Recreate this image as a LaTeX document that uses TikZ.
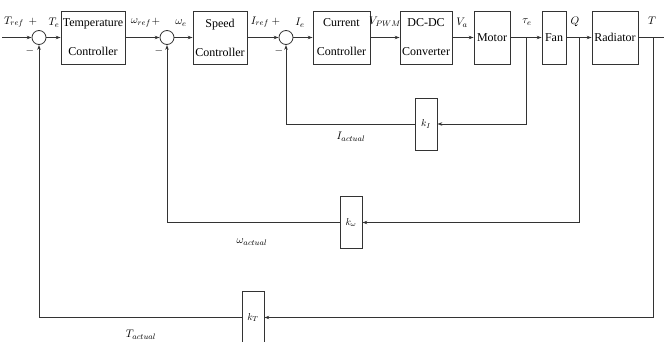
\documentclass[tikz,border=0pt]{standalone}
\usepackage{fontspec}
\setmainfont{Liberation Serif}
\usetikzlibrary{arrows.meta}
\begin{document}
\begin{tikzpicture}[x=1pt,y=-1pt,
  wire/.style={draw=black!80,line width=0.8pt},
  arr/.style={wire,-{Stealth[length=5pt,width=3.5pt]}},
  blockbox/.style={draw=black!80,line width=0.8pt,minimum height=53pt,inner sep=0pt,align=center,
    font=\fontsize{12}{29}\selectfont},
  gainbox/.style={draw=black!80,line width=0.8pt,minimum height=52pt,minimum width=22pt,inner sep=0pt},
  sumnode/.style={draw=black!80,line width=0.8pt,circle,minimum size=14pt,inner sep=0pt},
  lab/.style={inner sep=0pt,font=\fontsize{11}{13}\selectfont}]
\useasboundingbox (0,0) rectangle (664,342);
% blocks
\node[blockbox,minimum width=64pt] (temp) at (93,37.5) {Temperature\\Controller};
\node[blockbox,minimum width=54pt] (speed) at (220,37.5) {Speed\\Controller};
\node[blockbox,minimum width=57pt] (curr) at (341.5,37.5) {Current\\Controller};
\node[blockbox,minimum width=52pt] (dcdc) at (426,37.5) {DC-DC\\Converter};
\node[blockbox,minimum width=36pt] (motor) at (492,37.5) {Motor};
\node[blockbox,minimum width=24pt] (fan) at (554,37.5) {Fan};
\node[blockbox,minimum width=46pt] (rad) at (615,37.5) {Radiator};
% sums
\node[sumnode] (s1) at (39,37.5) {};
\node[sumnode] (s2) at (167,37.5) {};
\node[sumnode] (s3) at (286,37.5) {};
% gains
\node[gainbox] (kI) at (426,124) {$k_I$};
\node[gainbox] (kw) at (351,222.5) {$k_\omega$};
\node[gainbox] (kT) at (253,317.5) {$k_T$};
% coordinates
\coordinate (in) at (2,37.5);
\coordinate (out) at (664,37.5);
\coordinate (btau) at (526,37.5);
\coordinate (bQ) at (579,37.5);
\coordinate (bT) at (653,37.5);
% forward path
\draw[arr] (in) -- (s1);
\draw[arr] (s1) -- (temp);
\draw[arr] (temp) -- (s2);
\draw[arr] (s2) -- (speed);
\draw[arr] (speed) -- (s3);
\draw[arr] (s3) -- (curr);
\draw[arr] (curr) -- (dcdc);
\draw[arr] (dcdc) -- (motor);
\draw[arr] (motor) -- (fan);
\draw[arr] (fan) -- (rad);
\draw[wire] (rad) -- (out);
% feedback
\draw[arr] (btau) |- (kI);
\draw[arr] (kI.west) -| (s3.south);
\draw[arr] (bQ) |- (kw);
\draw[arr] (kw.west) -| (s2.south);
\draw[arr] (bT) |- (kT);
\draw[arr] (kT.west) -| (s1.south);
% labels
\node[lab] (l1) at (14,22) {$T_{ref}$};
\node[lab] (p1) at (33,22) {$+$};
\node[lab] (m1) at (30,51) {$-$};
\node[lab] (l2) at (54,23) {$T_e$};
\node[lab] (l3) at (141,23) {$\omega_{ref}$};
\node[lab] (p2) at (156,22) {$+$};
\node[lab] (m2) at (159,51) {$-$};
\node[lab] (l4) at (181,23) {$\omega_e$};
\node[lab] (l5) at (260,22) {$I_{ref}$};
\node[lab] (p3) at (276,22) {$+$};
\node[lab] (m3) at (279,51) {$-$};
\node[lab] (l6) at (300,23) {$I_e$};
\node[lab] (l7) at (385,22) {$V_{PWM}$};
\node[lab] (l8) at (462,23) {$V_a$};
\node[lab] (l9) at (527,22) {$\tau_e$};
\node[lab] (l10) at (575,22) {$Q$};
\node[lab] (l11) at (652,21) {$T$};
\node[lab] (l12) at (351,137) {$I_{actual}$};
\node[lab] (l13) at (252,242) {$\omega_{actual}$};
\node[lab] (l14) at (141,335) {$T_{actual}$};
\end{tikzpicture}
\end{document}
